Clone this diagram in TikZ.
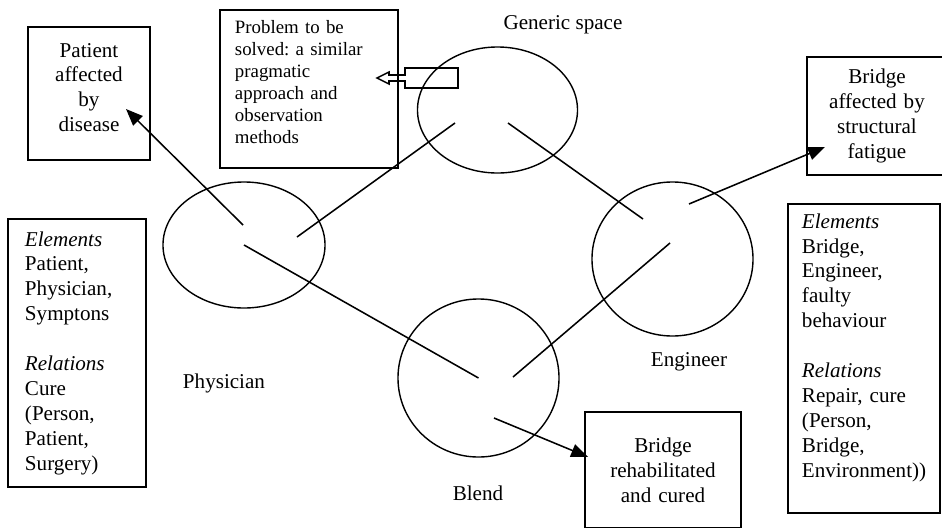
\documentclass[tikz,border=0pt]{standalone}
\usepackage{fontspec}
\setmainfont{Liberation Serif}
\frenchspacing
\usetikzlibrary{calc, positioning, arrows.meta, shapes.geometric}

\begin{document}
\begin{tikzpicture}[
    x=0.025cm, y=-0.025cm,
    font=\fontsize{15}{17.7}\selectfont,
    box/.style={
        draw, line width=1.3pt, align=center, inner sep=0pt
      },
    listbox/.style={
        draw, line width=1.3pt, align=left, inner ysep=0pt
      },
    spaceoval/.style={
        draw, ellipse, line width=1pt, inner sep=0pt
      },
    link/.style={line width=1.1pt},
    mapto/.style={-{Triangle[length=12pt, width=9.5pt]}, line width=1.1pt},
    tag/.style={inner sep=0pt}
  ]

  \useasboundingbox (0,0) rectangle (942,527);

  \node[spaceoval, minimum width=4cm, minimum height=3.15cm] (generic) at (497.5,110) {};
  \node[spaceoval, minimum width=4.05cm, minimum height=3.15cm] (phys) at (244,245) {};
  \node[spaceoval, minimum width=4.025cm, minimum height=3.85cm] (eng) at (672.5,259) {};
  \node[spaceoval, minimum width=4.025cm, minimum height=3.95cm] (blend) at (478.5,378) {};

  \node[tag] (genericlbl) at (563,25) {Generic space};
  \node[tag] (physlbl) at (224,383) {Physician};
  \node[tag] (englbl) at (689,362) {Engineer};
  \node[tag] (blendlbl) at (478,493) {Blend};

  \node[box, text width=3.05cm, minimum height=3.325cm] (patient) at (89,93.5)
  {Patient\\affected\\by\\disease\par\kern8.5pt};
  \node[listbox, font=\fontsize{13.4}{15.6}\selectfont, text width=3.7cm, inner xsep=0.375cm,
    minimum height=3.95cm] (problem) at (309,89)
  {Problem to be\\solved: a similar\\pragmatic\\approach and\\observation\\methods\par\kern10pt};
  \node[box, text width=3.5cm, minimum height=2.95cm] (fatigue) at (877,116)
  {Bridge\\affected by\\structural\\fatigue};
  \node[box, text width=3.9cm, minimum height=2.9cm] (rehab) at (663,470)
  {Bridge\\rehabilitated\\and cured};

  \node[listbox, text width=2.6cm, inner xsep=0.425cm, minimum height=6.7cm] (physlist) at (77,353)
  {\textit{Elements}\\Patient,\\Physician,\\Symptons\\[17.7pt]\textit{Relations}\\Cure\\(Person,\\Patient,\\Surgery)};
  \node[listbox, text width=3.1cm, inner xsep=0.35cm, minimum height=7.725cm] (englist) at (864,358.5)
  {\textit{Elements}\\Bridge,\\Engineer,\\faulty\\behaviour\\[17.7pt]\textit{Relations}\\Repair, cure\\(Person,\\Bridge,\\Environment))\par\kern15.6pt};

  \draw[link] (458,68) -- (405,68) -- (405,75) -- (389,75) -- (389,72) -- (377,78)
    -- (389,84) -- (389,81) -- (405,81) -- (405,88) -- (458,88) -- cycle;

  \coordinate (phys-gen) at ($(phys)+(53,-8)$);
  \coordinate (gen-phys) at ($(generic)+(-42.5,13)$);
  \coordinate (gen-eng) at ($(generic)+(10.5,13)$);
  \coordinate (eng-gen) at ($(eng)+(-29.5,-40)$);
  \coordinate (eng-blend) at ($(eng)+(-2.5,-16)$);
  \coordinate (blend-eng) at ($(blend)+(34.5,-1)$);

  \draw[link] (phys-gen) -- (gen-phys);
  \draw[link] (gen-eng) -- (eng-gen);
  \draw[link] (phys.center) -- (blend.center);
  \draw[link] (blend-eng) -- (eng-blend);

  \coordinate (phys-out) at ($(phys)+(-1,-20)$);
  \coordinate (patient-in) at ($(patient)+(37,15.5)$);
  \coordinate (eng-out) at ($(eng)+(16.5,-55)$);
  \coordinate (fatigue-in) at ($(fatigue)+(-52,31)$);
  \coordinate (blend-out) at ($(blend)+(15.5,40)$);
  \coordinate (rehab-in) at ($(rehab.west)+(4,-13)$);

  \draw[mapto] (phys-out) -- (patient-in);
  \draw[mapto] (eng-out) -- (fatigue-in);
  \draw[mapto] (blend-out) -- (rehab-in);

\end{tikzpicture}
\end{document}
